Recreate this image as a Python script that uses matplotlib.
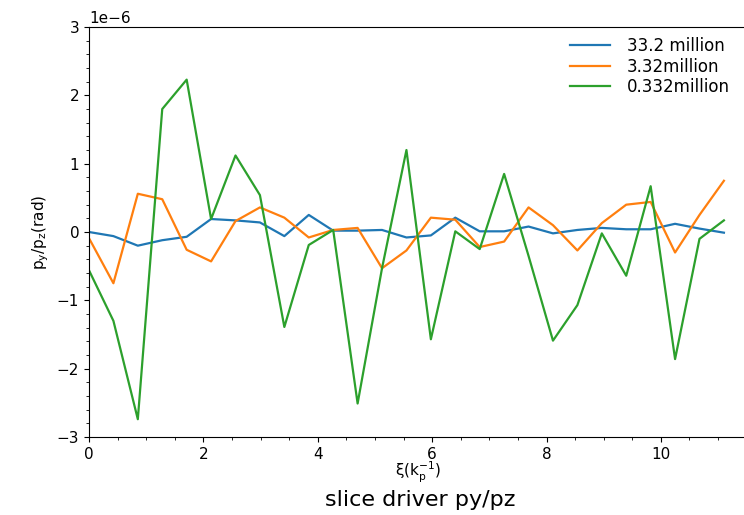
import numpy as np
import matplotlib.pyplot as plt
from matplotlib.ticker import MultipleLocator

# slice positions along the driver, in units of 1/k_p
step = 0.427
n_slices = 27

# py/pz per slice (in units of 1e-6 rad) for three macro-particle counts
labels = ["33.2 million", "3.32million", "0.332million"]
py_pz_33m = [0.0, -0.06, -0.2, -0.12, -0.07, 0.19, 0.17, 0.14, -0.06, 0.25,
             0.02, 0.02, 0.03, -0.08, -0.05, 0.21, 0.01, 0.01, 0.08, -0.02,
             0.03, 0.06, 0.04, 0.04, 0.12, 0.05, -0.01]
py_pz_3m = [-0.09, -0.75, 0.56, 0.48, -0.26, -0.43, 0.16, 0.36, 0.21, -0.08,
            0.03, 0.06, -0.53, -0.27, 0.21, 0.18, -0.22, -0.14, 0.36, 0.1,
            -0.27, 0.13, 0.4, 0.44, -0.3, 0.25, 0.75]
py_pz_03m = [-0.56, -1.3, -2.74, 1.8, 2.23, 0.19, 1.12, 0.54, -1.39, -0.19,
             0.03, -2.51, -0.53, 1.2, -1.57, 0.01, -0.25, 0.85, -0.35, -1.59,
             -1.07, -0.02, -0.64, 0.67, -1.86, -0.1, 0.17]

xi = np.arange(n_slices) * step

plt.rcParams['font.size'] = 12

fig = plt.figure(figsize=(7.44, 5.15), dpi=100)
ax = fig.add_axes([0.1196, 0.1515, 0.884, 0.796])

for vals, lab in zip([py_pz_33m, py_pz_3m, py_pz_03m], labels):
    ax.plot(xi, np.array(vals) * 1e-6, lw=1.6, label=lab)

ax.set_xlim(0, 11.5)
ax.set_ylim(-3e-6, 3e-6)
ax.xaxis.set_minor_locator(MultipleLocator(0.5))
ax.yaxis.set_minor_locator(MultipleLocator(0.2e-6))
ax.tick_params(labelsize=11)
ax.yaxis.get_offset_text().set_fontsize(11)

ax.set_xlabel(r"$\mathregular{\xi(k_p^{-1})}$", fontsize=11, labelpad=-1)
ax.set_ylabel(r"$\mathregular{p_y/p_z(rad)}$", fontsize=11)
ax.legend(loc="upper right", bbox_to_anchor=(0.997, 1.012), frameon=False,
          fontsize=12, labelspacing=0.15, handlelength=2.4, handletextpad=1.0)

fig.text(0.565, 0.03, "slice driver py/pz", ha="center", va="center", fontsize=16)

fig.savefig("out.png", dpi=100)
